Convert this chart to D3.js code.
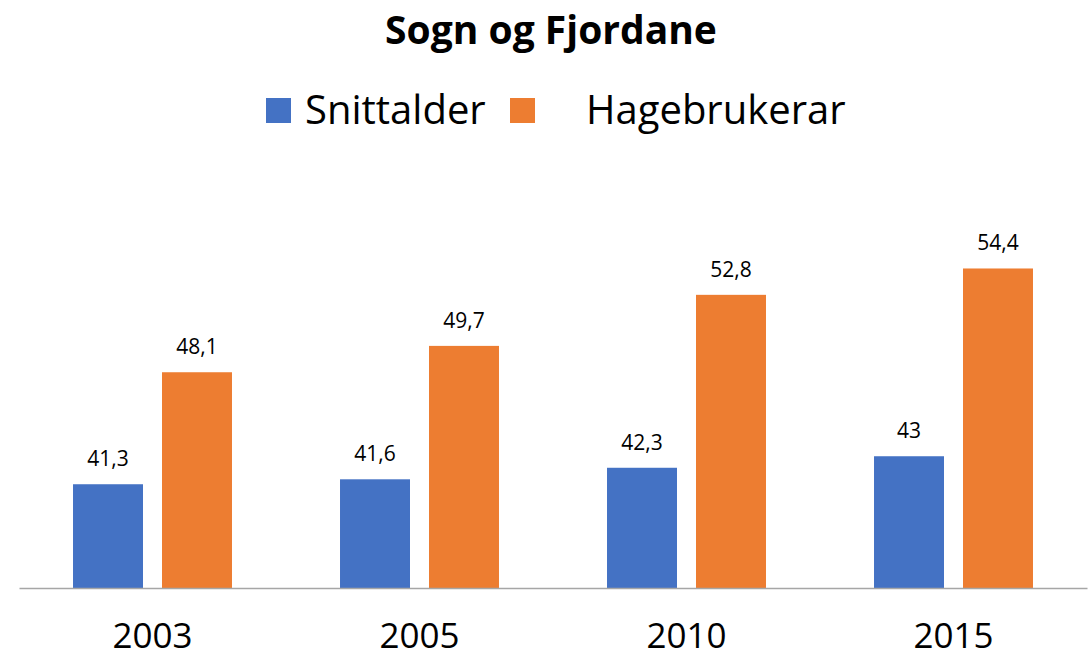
<!DOCTYPE html>
<html>
<head>
<meta charset="utf-8">
<script src="https://cdn.jsdelivr.net/npm/d3@7"></script>
<style>
  html, body { margin: 0; padding: 0; background: #fff; }
  svg { display: block; font-family: "Open Sans", sans-serif; }
</style>
</head>
<body>
<svg id="chart" width="1089" height="662"></svg>
<script>
const title = "Sogn og Fjordane";
const categories = ["2003", "2005", "2010", "2015"];
const seriesNames = ["Snittalder", "Hagebrukerar"];
const snittalder = [41.3, 41.6, 42.3, 43];
const hagebrukerar = [48.1, 49.7, 52.8, 54.4];
const colors = ["#4472C4", "#ED7D31"];

const seriesValues = [snittalder, hagebrukerar];
const fmt = v => String(v).replace(".", ",");

const svg = d3.select("#chart");
const left = 19, right = 1087, baseY = 588;

const x = d3.scaleBand().domain(categories).range([left, right]).paddingInner(0).paddingOuter(0);
const xs = d3.scaleBand().domain(seriesNames).range([0, x.bandwidth()]).paddingInner(0.2135).paddingOuter(0.607);
const y = d3.scaleLinear().domain([35, 55]).range([baseY, baseY - 20 * 16.47]);

// title
svg.append("text").attr("x", 551).attr("y", 44).attr("text-anchor", "middle")
  .attr("font-size", 39).attr("font-weight", "bold").attr("fill", "#000").text(title);

// legend
const legendItems = [
  { name: seriesNames[0], color: colors[0], sx: 266, tx: 305 },
  { name: seriesNames[1], color: colors[1], sx: 510, tx: 586 }
];
const lg = svg.append("g");
legendItems.forEach(d => {
  lg.append("rect").attr("x", d.sx).attr("y", 98).attr("width", 25).attr("height", 25).attr("fill", d.color);
  lg.append("text").attr("x", d.tx).attr("y", 124).attr("font-size", 40).attr("fill", "#000").text(d.name);
});

// bars
const groups = svg.append("g").selectAll("g").data(categories).join("g")
  .attr("transform", d => `translate(${x(d)},0)`);
seriesNames.forEach((s, si) => {
  groups.append("rect")
    .attr("x", xs(s)).attr("width", xs.bandwidth())
    .attr("y", (d, i) => y(seriesValues[si][i]))
    .attr("height", (d, i) => baseY - y(seriesValues[si][i]))
    .attr("fill", colors[si]);
  groups.append("text")
    .attr("x", xs(s) + xs.bandwidth() / 2)
    .attr("y", (d, i) => y(seriesValues[si][i]) - 18)
    .attr("text-anchor", "middle").attr("font-size", 21).attr("fill", "#000")
    .text((d, i) => fmt(seriesValues[si][i]));
});

// axis
const axis = svg.append("g").attr("transform", `translate(0,${baseY})`)
  .call(d3.axisBottom(x).tickSize(0).tickPadding(35));
axis.select(".domain").attr("stroke", "#a6a6a6").attr("stroke-width", 1.5);
axis.selectAll("text").attr("font-size", 35).attr("fill", "#000").attr("font-family", "'Open Sans', sans-serif");
</script>
</body>
</html>
